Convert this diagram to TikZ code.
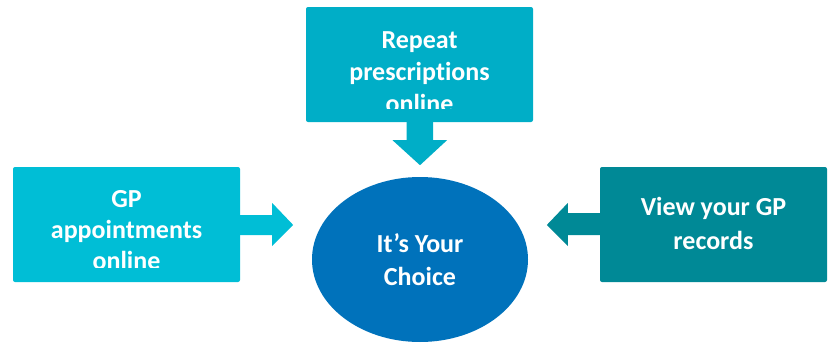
\documentclass[tikz,border=0pt]{standalone}
\usepackage{fontspec}
\setmainfont[Ligatures={NoCommon}]{Carlito}
\usetikzlibrary{shapes.geometric,calc}
\definecolor{cTop}{RGB}{0,174,199}
\definecolor{cLeft}{RGB}{0,190,214}
\definecolor{cRight}{RGB}{0,137,150}
\definecolor{cMid}{RGB}{0,114,187}
\tikzset{
  box/.style={rectangle, rounded corners=2pt, draw=none, minimum width=227pt, minimum height=115pt, inner sep=0pt},
  txt/.style={text=white, font=\fontsize{26}{32}\selectfont\bfseries, align=center, inner sep=0pt, anchor=base}
}
\begin{document}
\begin{tikzpicture}[x=1pt,y=-1pt]
\useasboundingbox (0,0) rectangle (833,343);
% boxes
\node[box, fill=cTop] (top) at (419.5,64.5) {};
\node[box, fill=cLeft] (left) at (126.5,224.5) {};
\node[box, fill=cRight] (right) at (713.5,224.5) {};
\node[ellipse, fill=cMid, draw=none, minimum width=216pt, minimum height=165pt, inner sep=0pt] (mid) at (420,259.5) {};
% texts (anchor base = baseline of last line)
\begin{scope}
\clip (306,7) rectangle (533,108);
\node[txt] (toptxt) at (419.5,112) {Repeat\\prescriptions\\online};
\end{scope}
\begin{scope}
\clip (13,167) rectangle (240,267);
\node[txt, font=\fontsize{26}{31}\selectfont\bfseries] (lefttxt) at (126.5,269) {GP\\appointments\\online};
\end{scope}
\node[txt, font=\fontsize{26}{34}\selectfont\bfseries] (righttxt) at (713.5,249) {View your GP\\records};
\node[txt, font=\fontsize{26}{33}\selectfont\bfseries] (midtxt) at (420,285) {It’s Your\\Choice};
% block arrows
\fill[cTop] ($(top.south)+(-13,0)$) -- ++(0,18) -- ++(-14,0) -- ($(top.south)+(0.5,43)$) coordinate (toptip)
  -- ($(top.south)+(27.5,18)$) -- ++(-14,0) -- ($(top.south)+(13.5,0)$) -- cycle;
\fill[cLeft] ($(left.east)+(0,-9.5)$) -- ++(32,0) -- ++(0,-12) -- ($(left.east)+(53,0.5)$) coordinate (lefttip)
  -- ($(left.east)+(32,21.5)$) -- ++(0,-11) -- ($(left.east)+(0,10.5)$) -- cycle;
\fill[cRight] ($(right.west)+(0,-11.5)$) -- ++(-32,0) -- ++(0,-10) -- ($(right.west)+(-53,0.5)$) coordinate (righttip)
  -- ($(right.west)+(-32,21.5)$) -- ++(0,-11) -- ($(right.west)+(0,10.5)$) -- cycle;
\end{tikzpicture}
\end{document}
